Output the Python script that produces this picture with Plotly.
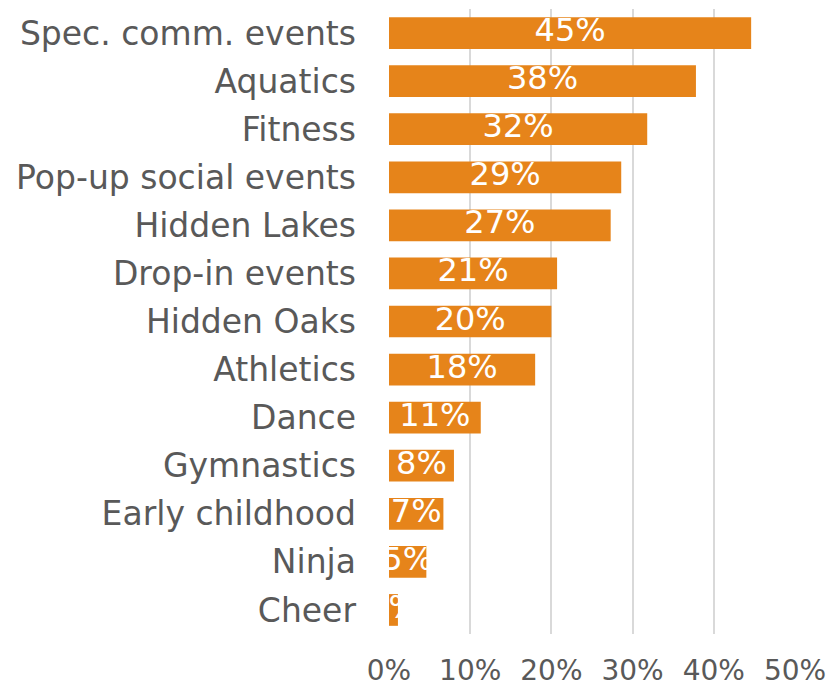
import plotly.graph_objects as go

categories = [
    "Spec. comm. events", "Aquatics", "Fitness", "Pop-up social events",
    "Hidden Lakes", "Drop-in events", "Hidden Oaks", "Athletics", "Dance",
    "Gymnastics", "Early childhood", "Ninja", "Cheer",
]
values = [44.6, 37.8, 31.8, 28.6, 27.3, 20.7, 20.0, 18.0, 11.3, 8.0, 6.7, 4.6, 1.1]
tick_values = [0, 10, 20, 30, 40, 50]
tick_labels = ["0%", "10%", "20%", "30%", "40%", "50%"]

BAR = "#E6841A"
GREY = "#595959"
FONT = "DejaVu Sans, Liberation Sans, Arial, sans-serif"

fig = go.Figure()
fig.add_trace(go.Bar(
    y=categories, x=values, orientation="h",
    marker=dict(color=BAR, line=dict(width=0)),
    width=0.66, hoverinfo="skip",
))
# value labels centred on each bar, clipped at the plot edge
fig.add_trace(go.Scatter(
    y=categories, x=[v / 2 for v in values], mode="text",
    text=[f"{v:.0f}%" for v in values],
    textposition="middle center",
    textfont=dict(color="white", size=32, family=FONT),
    cliponaxis=True, hoverinfo="skip",
))

fig.update_layout(
    width=828, height=689,
    margin=dict(l=389, r=33, t=9, b=55),
    paper_bgcolor="white", plot_bgcolor="white",
    showlegend=False,
    font=dict(family=FONT, color=GREY, size=32),
    xaxis=dict(
        range=[0, 50], tickvals=tick_values, ticktext=tick_labels,
        showgrid=True, gridcolor="#D9D9D9", gridwidth=2,
        zeroline=False, showline=False, ticks="",
        ticklabelstandoff=17, automargin=False,
        tickfont=dict(size=28, color=GREY, family=FONT),
    ),
    yaxis=dict(
        categoryorder="array", categoryarray=categories[::-1],
        range=[-0.5, len(categories) - 0.5],
        showgrid=False, zeroline=False, showline=False, ticks="",
        ticklabelstandoff=32, automargin=False,
        tickfont=dict(size=33, color=GREY, family=FONT),
    ),
)
fig.write_html("out.html")
